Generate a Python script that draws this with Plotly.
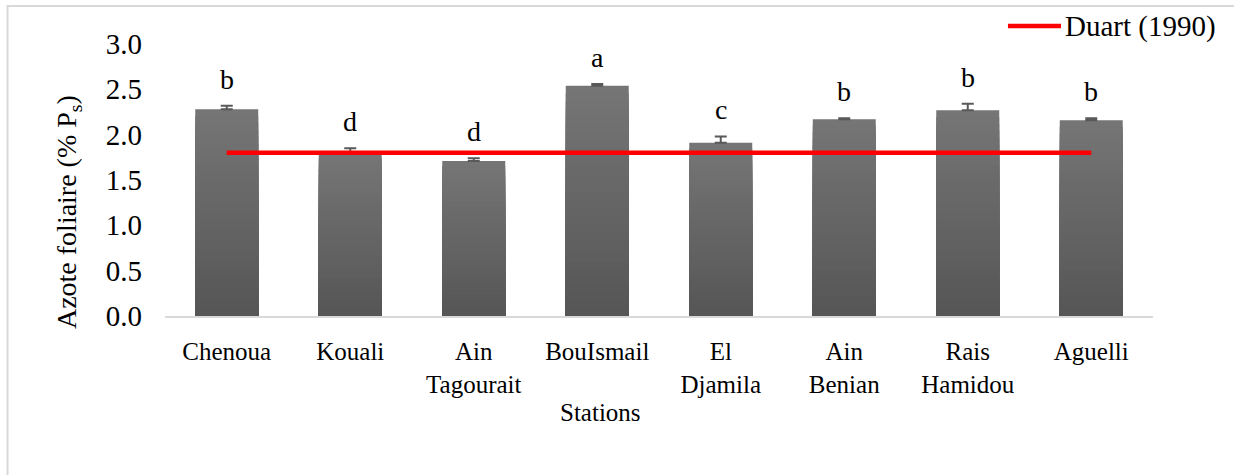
import plotly.graph_objects as go

# Foliar nitrogen per station
stations = ["Chenoua", "Kouali", "Ain<br>Tagourait", "BouIsmail", "El<br>Djamila",
            "Ain<br>Benian", "Rais<br>Hamidou", "Aguelli"]
azote = [2.28, 1.80, 1.71, 2.54, 1.91, 2.17, 2.27, 2.16]
erreur = [0.04, 0.05, 0.03, 0.02, 0.07, 0.01, 0.07, 0.02]
groupes = ["b", "d", "d", "a", "c", "b", "b", "b"]
reference_duart = [1.8] * len(stations)

FONT = "Liberation Serif"
x_idx = list(range(len(stations)))

fig = go.Figure()

# Bars shaded from light (top) to dark (bottom) using stacked overlay layers
N = 30
top_rgb = (0x75, 0x75, 0x75)
bot_rgb = (0x55, 0x55, 0x55)
for k in range(N, 0, -1):
    f = k / N
    c = tuple(round(b + (t - b) * f) for t, b in zip(top_rgb, bot_rgb))
    heights = [v * f for v in azote]
    kw = {}
    if k == N:
        kw["error_y"] = dict(type="data", array=erreur, arrayminus=[0] * len(erreur),
                             symmetric=False, color="#595959", thickness=2, width=6)
    fig.add_trace(go.Bar(
        x=x_idx, y=heights, width=0.51,
        marker=dict(color="rgb(%d,%d,%d)" % c, line=dict(width=0)),
        showlegend=False, hoverinfo="skip", **kw))

# Reference level (Duart, 1990)
fig.add_trace(go.Scatter(
    x=x_idx, y=reference_duart, mode="lines",
    line=dict(color="#ff0000", width=4.5),
    name="Duart (1990)", showlegend=False, hoverinfo="skip"))

# Significance letters above each bar
for i, (v, e, g) in enumerate(zip(azote, erreur, groupes)):
    fig.add_annotation(x=i, y=v + e, text=g, showarrow=False, yanchor="bottom",
                       yshift=9, font=dict(family=FONT, size=28, color="black"))

# Legend drawn manually: red sample line and label
fig.add_shape(type="line", xref="paper", yref="paper",
              x0=0.8532, x1=0.9069, y0=1.066, y1=1.066,
              line=dict(color="#ff0000", width=4.5))
fig.add_annotation(xref="paper", yref="paper", x=0.9085, y=1.066, text="Duart (1990)",
                   showarrow=False, xanchor="left", yanchor="middle",
                   font=dict(family=FONT, size=29, color="black"))

# Axis titles
fig.add_annotation(xref="paper", yref="paper", x=-0.0982, y=0.382,
                   text="Azote foliaire (% P<sub>s</sub>)", textangle=-90,
                   showarrow=False, xanchor="center", yanchor="middle",
                   font=dict(family=FONT, size=28, color="black"))
fig.add_annotation(xref="paper", yref="paper", x=0.4403, y=-0.353, text="Stations",
                   showarrow=False, xanchor="center", yanchor="middle",
                   font=dict(family=FONT, size=25, color="black"))

# Chart area border
fig.add_shape(type="rect", xref="paper", yref="paper",
              x0=-0.1594, x1=1.2, y0=-0.8, y1=1.1397,
              line=dict(color="#d9d9d9", width=2), fillcolor="rgba(0,0,0,0)", layer="below")

fig.update_layout(
    width=1234, height=475,
    margin=dict(l=165, r=81, t=44, b=159),
    barmode="overlay", bargap=0.49,
    plot_bgcolor="white", paper_bgcolor="white",
    font=dict(family=FONT, size=25, color="black"),
    showlegend=False,
)
fig.update_xaxes(
    tickmode="array", tickvals=x_idx, ticktext=stations,
    range=[-0.5, len(stations) - 0.5],
    showline=True, linecolor="#d9d9d9", linewidth=2,
    showgrid=False, ticks="", ticklabelstandoff=12,
    tickfont=dict(family=FONT, size=25, color="black"),
)
fig.update_yaxes(
    range=[0, 3.0], tickvals=[0, 0.5, 1.0, 1.5, 2.0, 2.5, 3.0], tickformat=".1f",
    showline=False, showgrid=False, zeroline=False, ticks="", ticklabelstandoff=22,
    tickfont=dict(family=FONT, size=29, color="black"),
)

fig.write_html("out.html")
